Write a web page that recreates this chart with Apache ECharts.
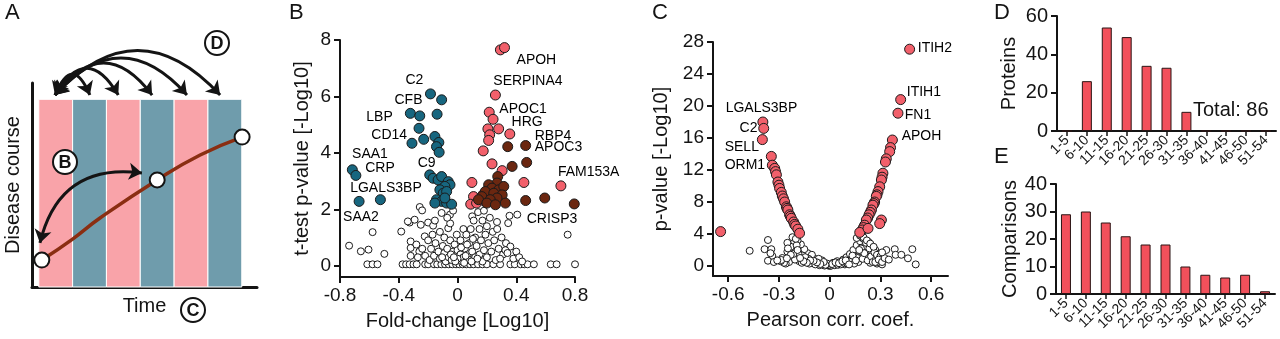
<!DOCTYPE html>
<html>
<head>
<meta charset="utf-8">
<script src="https://cdn.jsdelivr.net/npm/echarts@6/dist/echarts.min.js"></script>
<style>
  html, body { margin: 0; background: #fff; }
  #chart { width: 1280px; height: 339px; }
</style>
</head>
<body>
<div id="chart"></div>
<script>
// ---- A: schematic ----
const stripeEdges = [0, 1, 2, 3, 4, 5, 6]
const stripeTop = 9.2
const courseLine = [[0.09, 1.32], [1.0, 2.35], [1.81, 3.38], [3.5, 5.25], [4.77, 6.47], [6.01, 7.35]]
const coursePoints = [[0.09, 1.32], [3.5, 5.25], [6.01, 7.35]]
const arrowStart = [0.48, 9.41]
const arrowTargets = [[1.51, 9.41], [2.35, 9.41], [3.35, 9.41], [4.38, 9.41], [5.36, 9.41]]
const arrowCurves = [1.2, 0.85, 0.66, 0.56, 0.54]
const arrowB = [[0.035, 2.16], [3.05, 5.59]]

// ---- B: fold-change volcano ----
const bTicksY = [0, 2, 4, 6, 8]
const bRed = [[0.292, 7.65], [0.32, 7.73], [0.258, 6.05], [0.216, 5.44], [0.242, 5.19], [0.207, 4.85], [0.28, 4.85],
  [0.219, 4.64], [0.212, 4.44], [0.356, 4.67], [0.175, 4.07], [0.235, 3.61], [0.304, 3.37], [0.098, 2.95], [0.109, 2.45],
  [0.09, 2.18], [0.173, 2.51], [0.13, 2.22], [0.186, 2.28], [0.452, 2.95], [0.704, 2.83]]
const bBrown = [[0.342, 4.22], [0.464, 4.26], [0.372, 3.52], [0.471, 3.66], [0.274, 3.16], [0.269, 2.93], [0.212, 2.87],
  [0.235, 2.75], [0.281, 2.69], [0.315, 2.81], [0.189, 2.63], [0.247, 2.57], [0.304, 2.51], [0.166, 2.45], [0.269, 2.4],
  [0.223, 2.34], [0.326, 2.22], [0.143, 2.34], [0.2, 2.22], [0.258, 2.16], [0.464, 2.31], [0.594, 2.4], [0.795, 2.19]]
const bBlue = [[-0.184, 6.09], [-0.108, 5.88], [-0.321, 5.4], [-0.257, 5.31], [-0.139, 5.37], [-0.262, 4.87], [-0.23, 4.48],
  [-0.31, 4.34], [-0.154, 4.58], [-0.127, 4.37], [-0.143, 4.22], [-0.125, 4.02], [-0.716, 3.4], [-0.692, 3.2], [-0.189, 3.22],
  [-0.166, 3.1], [-0.132, 3.04], [-0.108, 3.16], [-0.063, 2.98], [-0.051, 2.87], [-0.086, 2.81], [-0.12, 2.69], [-0.097, 2.57],
  [-0.074, 2.63], [-0.143, 2.34], [-0.108, 2.28], [-0.074, 2.22], [-0.04, 2.18], [-0.154, 2.22], [-0.086, 2.4],
  [-0.67, 2.28], [-0.525, 2.34]]
const bGrey = [[-0.738, 0.71], [-0.658, 0.51], [-0.606, 0.57], [-0.578, 1.19], [-0.498, 0.42],
  [-0.614, 0.05], [-0.578, 0.05], [-0.545, 0.05], [-0.374, 0.05], [-0.35, 0.05], [-0.326, 0.05], [-0.3, 0.05], [-0.278, 0.05],
  [-0.22, 0.05], [-0.2, 0.05], [-0.16, 0.05], [-0.138, 0.05], [-0.11, 0.05], [-0.085, 0.05], [-0.06, 0.05], [-0.035, 0.05],
  [-0.01, 0.05], [0.012, 0.05], [0.035, 0.05], [0.06, 0.05], [0.085, 0.05], [0.11, 0.05], [0.14, 0.05], [0.17, 0.05],
  [0.2, 0.05], [0.244, 0.05], [0.29, 0.05], [0.36, 0.05], [0.39, 0.05], [0.43, 0.05], [0.455, 0.05], [0.477, 0.05],
  [0.52, 0.05], [0.635, 0.05], [0.675, 0.05], [0.8, 0.05],
  [-0.383, 1.21], [-0.326, 1.53], [-0.292, 1.63], [-0.257, 2.08], [-0.241, 1.96], [-0.25, 1.45], [-0.223, 1.04],
  [-0.319, 0.86], [-0.319, 0.63], [-0.319, 0.35], [-0.2, 1.53], [-0.166, 1.42], [-0.154, 1.6], [-0.108, 1.87],
  [-0.051, 1.81], [-0.063, 1.33],
  [-0.28, 0.75], [-0.26, 0.5], [-0.27, 0.3], [-0.24, 0.6], [-0.22, 0.35], [-0.2, 0.9], [-0.19, 0.2], [-0.18, 0.6],
  [-0.17, 1.1], [-0.16, 0.35], [-0.15, 0.8], [-0.13, 0.5], [-0.12, 1.2], [-0.12, 0.25], [-0.1, 0.7], [-0.09, 0.45],
  [-0.09, 1.0], [-0.08, 0.15], [-0.07, 0.6], [-0.06, 0.3], [-0.05, 0.9], [-0.05, 1.5], [-0.04, 0.2], [-0.03, 0.5],
  [-0.02, 0.75], [-0.01, 0.35], [-0.005, 1.1], [0, 0.55], [0.01, 0.2], [0.02, 0.4], [0.02, 0.9], [0.03, 0.15],
  [0.04, 0.3], [0.04, 1.3], [0.05, 0.6], [0.06, 1.1], [0.07, 0.4], [0.08, 0.2], [0.08, 0.8], [0.09, 1.3], [0.1, 0.5],
  [0.1, 1.75], [0.11, 1.6], [0.12, 0.3], [0.12, 1.0], [0.13, 0.7], [0.14, 1.9], [0.15, 0.4], [0.15, 1.3], [0.16, 0.9],
  [0.17, 0.15], [0.17, 1.6], [0.18, 0.55], [0.18, 1.95], [0.19, 1.1], [0.2, 0.3], [0.2, 1.4], [0.21, 0.8], [0.22, 1.7],
  [0.23, 0.5], [0.24, 1.2], [0.25, 0.9], [0.26, 0.2], [0.27, 1.3], [0.28, 0.6], [0.3, 1.0], [0.31, 0.4], [0.33, 0.8],
  [0.36, 0.68], [0.326, 0.55], [0.269, 1.55], [0.345, 1.51], [0.354, 1.77], [0.407, 1.81], [0.75, 1.1],
  [0.34, 0.45], [0.38, 0.25], [0.4, 0.5], [0.42, 0.3], [0.44, 0.15], [0.29, 0.25], [-0.03, 1.95], [-0.07, 1.7],
  [0.0, 0.25], [0.025, 0.65], [0.055, 0.35], [-0.015, 0.15], [0.065, 0.75], [-0.045, 0.4], [0.105, 0.95], [0.135, 0.25],
  [-0.105, 0.3], [0.045, 0.1], [0.095, 0.15], [-0.025, 0.3], [-0.338, 1.57]]
const bNames = [['FN1', 0.354, 8.11], ['APOH', 0.402, 7.29], ['SERPINA4', 0.244, 6.55], ['APOC1', 0.285, 5.56],
  ['HRG', 0.368, 5.1], ['RBP4', 0.526, 4.6], ['APOC3', 0.526, 4.21], ['FAM153A', 0.684, 3.33], ['CRISP3', 0.471, 1.66],
  ['C2', -0.354, 6.58], ['CFB', -0.429, 5.88], ['LBP', -0.621, 5.27], ['CD14', -0.587, 4.64], ['SAA1', -0.718, 3.96],
  ['CRP', -0.628, 3.47], ['C9', -0.271, 3.65], ['LGALS3BP', -0.731, 2.76], ['SAA2', -0.779, 1.73]]

// ---- C: correlation volcano ----
const cTicksX = [-0.6, -0.3, 0, 0.3, 0.6]
const cTicksY = [0, 4, 8, 12, 16, 20, 24, 28]
const cRed = [[0.473, 27.1], [0.42, 20.8], [0.404, 19.1], [0.371, 15.75], [0.36, 14.8], [0.355, 14.3], [0.335, 13.4],
  [0.33, 13.0], [0.315, 11.6], [0.31, 11.1], [0.306, 10.75], [0.296, 9.9], [0.286, 9.3], [0.28, 8.9], [0.276, 8.7],
  [0.266, 8.0], [0.262, 7.8], [0.256, 7.6], [0.247, 7.0], [0.24, 6.7], [0.233, 6.4], [0.225, 6.0], [0.217, 5.75],
  [0.207, 5.1], [0.2, 4.8], [0.193, 4.5], [0.178, 4.2], [0.227, 4.7], [0.306, 5.75], [0.296, 5.3],
  [-0.395, 18.0], [-0.39, 17.2], [-0.398, 15.8], [-0.345, 13.7], [-0.339, 12.6], [-0.325, 12.2], [-0.32, 11.8],
  [-0.315, 11.4], [-0.306, 10.5], [-0.3, 10.1], [-0.296, 9.7], [-0.286, 9.2], [-0.28, 8.75], [-0.273, 8.4],
  [-0.266, 8.0], [-0.256, 7.4], [-0.252, 7.2], [-0.247, 7.0], [-0.237, 6.4], [-0.232, 6.2], [-0.227, 5.96],
  [-0.213, 5.5], [-0.207, 5.2], [-0.201, 5.0], [-0.188, 4.6], [-0.178, 4.1], [-0.645, 4.3]]
const cGrey = [[0, 0], [0.01, 0.05], [-0.01, 0.1], [0.02, 0.15], [-0.02, 0.2], [0.03, 0.1], [-0.03, 0.05], [0.04, 0.3],
  [-0.04, 0.25], [0.05, 0.15], [-0.05, 0.4], [0.06, 0.5], [-0.06, 0.1], [0.07, 0.3], [-0.07, 0.6], [0.08, 0.8],
  [-0.08, 0.35], [0.09, 0.2], [-0.09, 0.9], [0.1, 1.1], [-0.1, 0.5], [0.11, 0.6], [-0.11, 1.2], [0.12, 1.5], [-0.12, 0.3],
  [0.13, 0.9], [-0.13, 1.6], [0.14, 2.0], [-0.14, 0.8], [0.15, 1.2], [-0.15, 2.1], [0.16, 2.6], [-0.16, 1.3], [0.17, 0.5],
  [-0.17, 2.7], [0.18, 3.1], [-0.18, 0.6], [0.19, 1.8], [-0.19, 3.2], [0.2, 3.4], [-0.2, 1.9], [0.21, 2.5], [-0.21, 3.0],
  [0.22, 1.0], [-0.22, 1.2], [0.23, 3.0], [-0.23, 2.4], [0.24, 0.4], [-0.24, 0.5], [0.25, 1.5], [-0.25, 1.8], [0.26, 0.8],
  [-0.26, 0.3], [0.27, 2.0], [-0.27, 0.8], [0.28, 0.3], [0.29, 1.1], [0.3, 0.6], [0.31, 0.2],
  [0.02, 0.4], [-0.015, 0.3], [0.045, 0.6], [-0.045, 0.7], [0.065, 0.2], [-0.065, 0.9], [0.085, 0.4], [-0.085, 0.2],
  [0.105, 0.3], [-0.105, 1.4], [0.125, 0.5], [-0.125, 0.9], [0.145, 0.3], [-0.145, 1.1], [0.165, 1.0], [-0.165, 0.4],
  [0.185, 2.2], [-0.185, 1.6], [0.195, 0.9], [-0.195, 2.6], [0.205, 1.6], [-0.205, 0.8], [0.215, 2.9], [-0.215, 1.5],
  [0.225, 0.7], [0.235, 2.2], [0.245, 1.2], [0.255, 0.5], [0.265, 1.7], [0.275, 0.9], [0.285, 0.5],
  [0.16, 3.5], [0.18, 3.8], [0.2, 3.6], [0.22, 3.2], [0.24, 2.8], [0.26, 2.4], [0.28, 1.4], [0.3, 1.2], [0.27, 0.5],
  [0.29, 0.8], [0.31, 0.5],
  [-0.28, 1.0], [-0.25, 2.9], [-0.22, 3.6], [-0.2, 3.4], [-0.19, 2.0], [-0.23, 1.4], [-0.27, 0.4], [-0.29, 0.6],
  [-0.473, 1.9], [-0.385, 2.1], [-0.345, 2.1], [-0.339, 1.25], [-0.365, 0.66], [-0.365, 3.25], [-0.35, 1.6], [-0.33, 0.5],
  [-0.286, 0.75], [-0.253, 0.96], [-0.247, 2.2], [-0.31, 0.7],
  [0.335, 2.0], [0.385, 2.1], [0.39, 1.4], [0.424, 1.4], [0.463, 0.96], [0.489, 2.1], [0.509, 0.2], [0.325, 1.0],
  [0.35, 0.8], [0.31, 1.7],
  [0.015, 0.25], [-0.025, 0.15], [0.035, 0.45], [-0.035, 0.5], [0.055, 0.35], [-0.055, 0.25], [0.075, 0.6],
  [-0.075, 0.45], [0.095, 0.7], [-0.095, 0.65], [0.115, 0.2], [-0.115, 0.7], [0.135, 1.3], [-0.135, 0.4], [0.155, 0.7],
  [-0.155, 0.6], [0.175, 2.0], [-0.175, 1.0]]
const cNames = [['ITIH2', 0.521, 27.25], ['ITIH1', 0.456, 21.75], ['FN1', 0.444, 18.9], ['APOH', 0.426, 16.25],
  ['LGALS3BP', -0.615, 19.75], ['C2', -0.533, 17.25], ['SELL', -0.621, 14.9], ['ORM1', -0.621, 12.6]]

// ---- D / E: histograms ----
const bins = ['1-5', '6-10', '11-15', '16-20', '21-25', '26-30', '31-35', '36-40', '41-45', '46-50', '51-54']
const proteins = [0, 26, 54, 49, 34, 33, 10, 0, 0, 0, 0]
const comparisons = [29, 30, 26, 21, 18, 18, 10, 7, 6, 7, 1]

const font = 'Liberation Sans, Arial, Helvetica, sans-serif'
const ink = '#141414'
const red = '#F2606B'
const blue = '#17667F'
const brown = '#6B2710'
const pink = '#F9A3A9'
const teal = '#6F9CAC'

const chart = echarts.init(document.getElementById('chart'))

function line(w) {
  return { show: true, onZero: false, lineStyle: { color: ink, width: w } }
}
function ticks(vals) {
  return { show: true, length: 6, lineStyle: { color: ink, width: 2 }, customValues: vals }
}
function labels(size, vals) {
  return { color: ink, fontSize: size, fontFamily: font, margin: 9, customValues: vals }
}
function title(size) {
  return { color: ink, fontSize: size, fontFamily: font }
}
function dots(xi, data, color, size, z) {
  return {
    type: 'scatter', xAxisIndex: xi, yAxisIndex: xi, data: data, symbolSize: size, z: z, silent: true,
    itemStyle: { color: color, borderColor: '#1a1a1a', borderWidth: 1, opacity: 1 }
  }
}
function names(xi, list) {
  return {
    type: 'scatter', xAxisIndex: xi, yAxisIndex: xi, symbolSize: 0, z: 10, silent: true,
    itemStyle: { opacity: 1 },
    data: list.map(d => ({ name: d[0], value: [d[1], d[2]] })),
    label: { show: true, position: 'right', distance: 0, formatter: '{b}', fontSize: 14, color: '#000',
      opacity: 1, fontFamily: font }
  }
}
function badge(letter, x, y) {
  return {
    type: 'group', x: x, y: y, children: [
      { type: 'circle', z: 100, shape: { cx: 0, cy: 0, r: 12 }, style: { fill: '#fff', stroke: ink, lineWidth: 2 } },
      { type: 'text', z: 101, style: { text: letter, x: 0, y: 1, align: 'center', verticalAlign: 'middle',
        font: 'bold 18px ' + font, fill: ink } }
    ]
  }
}
function letter(t, x, y) {
  return { type: 'text', x: x, y: y, z: 100, style: { text: t, font: '22px ' + font, fill: ink } }
}

chart.setOption({
  animation: false,
  grid: [
    { left: 32, top: 83, width: 225, height: 204 },
    { left: 340, top: 40, width: 235, height: 237 },
    { left: 713, top: 42, width: 235, height: 234 },
    { left: 1057, top: 16, width: 219, height: 115 },
    { left: 1056, top: 184, width: 219, height: 110 }
  ],
  xAxis: [
    { gridIndex: 0, type: 'value', min: -0.2, max: 6.45, axisLine: line(3), axisTick: { show: false },
      axisLabel: { show: false }, splitLine: { show: false },
      name: 'Time', nameLocation: 'middle', nameGap: 9, nameTextStyle: title(20) },
    { gridIndex: 1, type: 'value', min: -0.8, max: 0.8, interval: 0.4, axisLine: line(2), axisTick: ticks(),
      axisLabel: labels(19), splitLine: { show: false },
      name: 'Fold-change [Log10]', nameLocation: 'middle', nameGap: 34, nameTextStyle: title(20) },
    { gridIndex: 2, type: 'value', min: -0.69, max: 0.7, axisLine: line(2), axisTick: ticks(cTicksX),
      axisLabel: labels(19, cTicksX), splitLine: { show: false },
      name: 'Pearson corr. coef.', nameLocation: 'middle', nameGap: 34, nameTextStyle: title(20) },
    { gridIndex: 3, type: 'category', data: bins, axisLine: line(2),
      axisTick: { show: true, alignWithLabel: true, length: 5, lineStyle: { color: ink, width: 1.5 } },
      axisLabel: { color: ink, fontSize: 14, fontFamily: font, rotate: 45, interval: 0, margin: 7 } },
    { gridIndex: 4, type: 'category', data: bins, axisLine: line(2),
      axisTick: { show: true, alignWithLabel: true, length: 5, lineStyle: { color: ink, width: 1.5 } },
      axisLabel: { color: ink, fontSize: 14, fontFamily: font, rotate: 45, interval: 0, margin: 7 } }
  ],
  yAxis: [
    { gridIndex: 0, type: 'value', min: 0, max: 10, axisLine: line(3), axisTick: { show: false },
      axisLabel: { show: false }, splitLine: { show: false },
      name: 'Disease course', nameLocation: 'middle', nameGap: 9, nameTextStyle: title(20) },
    { gridIndex: 1, type: 'value', min: -0.4, max: 8, axisLine: line(2), axisTick: ticks(bTicksY),
      axisLabel: labels(19, bTicksY), splitLine: { show: false },
      name: 't-test p-value [-Log10]', nameLocation: 'middle', nameGap: 28, nameTextStyle: title(20) },
    { gridIndex: 2, type: 'value', min: -1.25, max: 28, axisLine: line(2), axisTick: ticks(cTicksY),
      axisLabel: labels(19, cTicksY), splitLine: { show: false },
      name: 'p-value [-Log10]', nameLocation: 'middle', nameGap: 42, nameTextStyle: title(20) },
    { gridIndex: 3, type: 'value', min: 0, max: 60, interval: 20, axisLine: line(2), axisTick: ticks(),
      axisLabel: labels(20), splitLine: { show: false },
      name: 'Proteins', nameLocation: 'middle', nameGap: 38, nameTextStyle: title(20) },
    { gridIndex: 4, type: 'value', min: 0, max: 40, interval: 10, axisLine: line(2), axisTick: ticks(),
      axisLabel: labels(20), splitLine: { show: false },
      name: 'Comparisons', nameLocation: 'middle', nameGap: 34, nameTextStyle: title(20) }
  ],
  series: [
    // A
    {
      type: 'line', xAxisIndex: 0, yAxisIndex: 0, data: courseLine, smooth: 0.5, showSymbol: false, z: 3, silent: true,
      lineStyle: { color: '#8A2E12', width: 3.5 },
      markArea: {
        silent: true,
        data: stripeEdges.slice(0, -1).map((x, i) => [
          { xAxis: x, yAxis: 0, itemStyle: { color: i % 2 ? teal : pink, opacity: 1, borderColor: '#fff', borderWidth: 1 } },
          { xAxis: stripeEdges[i + 1], yAxis: stripeTop }
        ])
      }
    },
    {
      type: 'lines', coordinateSystem: 'cartesian2d', xAxisIndex: 0, yAxisIndex: 0, clip: false, z: 5, silent: true,
      symbol: ['arrow', 'arrow'], symbolSize: 13,
      lineStyle: { color: ink, width: 3, opacity: 1 },
      data: arrowTargets.map((t, i) => ({ coords: [arrowStart, t], lineStyle: { curveness: arrowCurves[i] } }))
        .concat([{ coords: arrowB, lineStyle: { curveness: 0.45 } }])
    },
    {
      type: 'scatter', xAxisIndex: 0, yAxisIndex: 0, data: coursePoints, symbolSize: 15, z: 6, silent: true,
      itemStyle: { color: '#fff', borderColor: ink, borderWidth: 2, opacity: 1 }
    },
    // B
    dots(1, bGrey, '#fff', 7, 2),
    dots(1, bBlue, blue, 10, 3),
    dots(1, bRed, red, 10, 3),
    dots(1, bBrown, brown, 10, 4),
    names(1, bNames),
    // C
    dots(2, cGrey, '#fff', 7, 2),
    dots(2, cRed, red, 10, 3),
    names(2, cNames),
    // D / E
    {
      type: 'bar', xAxisIndex: 3, yAxisIndex: 3, data: proteins, barWidth: 10, silent: true,
      itemStyle: { color: '#F2505B', borderColor: '#2a1414', borderWidth: 1 }
    },
    {
      type: 'bar', xAxisIndex: 4, yAxisIndex: 4, data: comparisons, barWidth: 10, silent: true,
      itemStyle: { color: '#F2505B', borderColor: '#2a1414', borderWidth: 1 }
    }
  ],
  graphic: [
    letter('A', 5, 2), letter('B', 289, 2), letter('C', 652, 2), letter('D', 994, 2), letter('E', 994, 146),
    badge('B', 65, 162), badge('D', 217, 43), badge('C', 193, 310),
    { type: 'text', x: 1193, y: 100, z: 100, style: { text: 'Total: 86', font: '20px ' + font, fill: ink } }
  ]
})
</script>
</body>
</html>
